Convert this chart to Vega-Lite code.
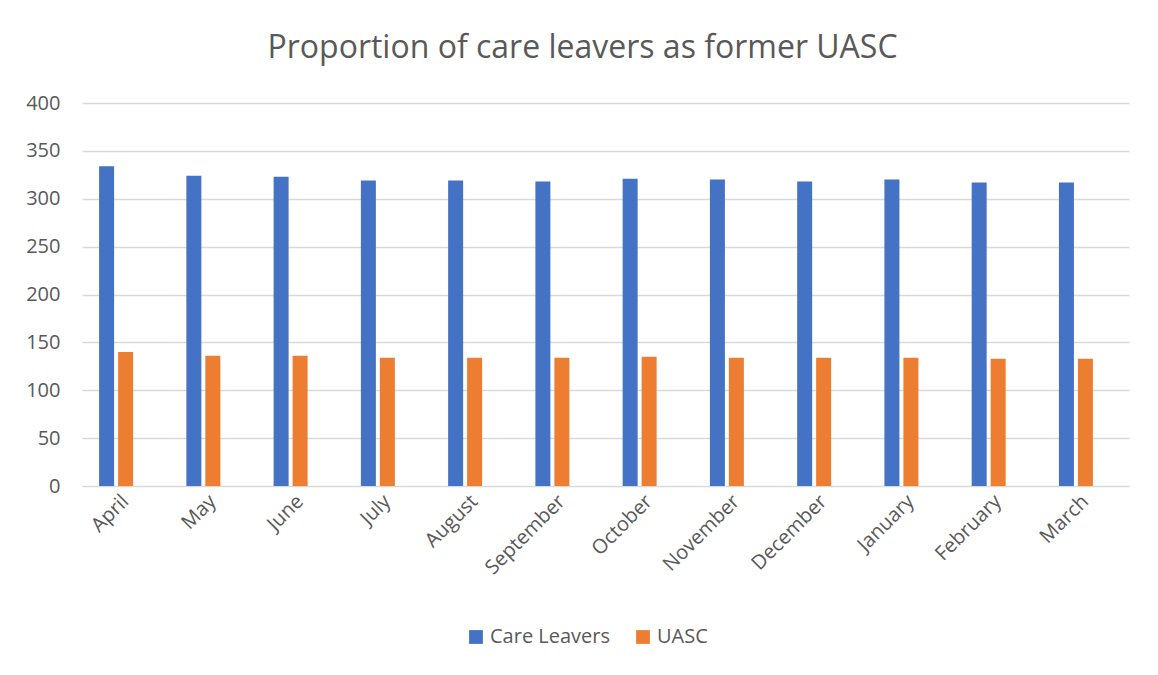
{
  "$schema": "https://vega.github.io/schema/vega-lite/v6.json",
  "width": 1047,
  "height": 383,
  "autosize": {"type": "none"},
  "padding": {"left": 82, "top": 103, "right": 29, "bottom": 189},
  "background": "white",
  "title": {
    "text": "Proportion of care leavers as former UASC",
    "fontSize": 32,
    "font": "Open Sans",
    "fontWeight": "normal",
    "color": "#595959",
    "anchor": "middle",
    "frame": "group",
    "dx": -23,
    "offset": 28
  },
  "data": {
    "values": [
      {"month": "April", "series": "Care Leavers", "value": 334},
      {"month": "May", "series": "Care Leavers", "value": 324},
      {"month": "June", "series": "Care Leavers", "value": 323},
      {"month": "July", "series": "Care Leavers", "value": 319},
      {"month": "August", "series": "Care Leavers", "value": 319},
      {"month": "September", "series": "Care Leavers", "value": 318},
      {"month": "October", "series": "Care Leavers", "value": 321},
      {"month": "November", "series": "Care Leavers", "value": 320},
      {"month": "December", "series": "Care Leavers", "value": 318},
      {"month": "January", "series": "Care Leavers", "value": 320},
      {"month": "February", "series": "Care Leavers", "value": 317},
      {"month": "March", "series": "Care Leavers", "value": 317},
      {"month": "April", "series": "UASC", "value": 140},
      {"month": "May", "series": "UASC", "value": 136},
      {"month": "June", "series": "UASC", "value": 136},
      {"month": "July", "series": "UASC", "value": 134},
      {"month": "August", "series": "UASC", "value": 134},
      {"month": "September", "series": "UASC", "value": 134},
      {"month": "October", "series": "UASC", "value": 135},
      {"month": "November", "series": "UASC", "value": 134},
      {"month": "December", "series": "UASC", "value": 134},
      {"month": "January", "series": "UASC", "value": 134},
      {"month": "February", "series": "UASC", "value": 133},
      {"month": "March", "series": "UASC", "value": 133}
    ]
  },
  "mark": {"type": "bar"},
  "encoding": {
    "x": {
      "field": "month",
      "type": "nominal",
      "sort": ["April", "May", "June", "July", "August", "September", "October", "November", "December", "January", "February", "March"],
      "scale": {"paddingInner": 0.393, "paddingOuter": 0.196},
      "title": null,
      "axis": {
        "labelAngle": -45,
        "labelAlign": "right",
        "labelBaseline": "middle",
        "labelFont": "Open Sans",
        "labelFontSize": 20,
        "labelColor": "#595959",
        "labelPadding": 12,
        "ticks": false,
        "domain": false,
        "grid": false
      }
    },
    "xOffset": {
      "field": "series",
      "type": "nominal",
      "scale": {"domain": ["Care Leavers", "UASC", "Proportion"], "paddingInner": 0.21, "paddingOuter": 0}
    },
    "y": {
      "field": "value",
      "type": "quantitative",
      "scale": {"domain": [0, 400], "nice": false},
      "title": null,
      "axis": {
        "values": [0, 50, 100, 150, 200, 250, 300, 350, 400],
        "labelFont": "Open Sans",
        "labelFontSize": 20,
        "labelColor": "#595959",
        "labelPadding": 22,
        "ticks": false,
        "domain": false,
        "grid": true,
        "gridColor": "#d9d9d9",
        "gridWidth": 1.3
      }
    },
    "color": {
      "field": "series",
      "type": "nominal",
      "scale": {"domain": ["Care Leavers", "UASC"], "range": ["#4472C4", "#ED7D31"]},
      "legend": {
        "title": null,
        "orient": "none",
        "direction": "horizontal",
        "legendX": 384,
        "legendY": 524,
        "symbolType": "square",
        "symbolSize": 190,
        "symbolStrokeWidth": 0,
        "labelFont": "Open Sans",
        "labelFontSize": 20,
        "labelColor": "#595959",
        "columnPadding": 22,
        "labelOffset": 4
      }
    }
  },
  "config": {"view": {"stroke": null}}
}
